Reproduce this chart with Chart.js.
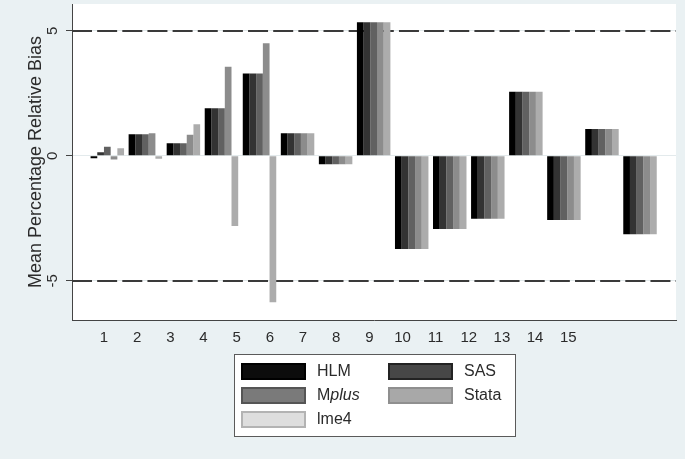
<!DOCTYPE html>
<html>
<head>
<meta charset="utf-8">
<script src="https://cdn.jsdelivr.net/npm/chart.js@4.4.1/dist/chart.umd.min.js"></script>
<style>
  html, body { margin: 0; padding: 0; background: #eaf1f3; }
  canvas { display: block; }
</style>
</head>
<body>
<canvas id="chart" width="685" height="459"></canvas>
<script>
// Simulation conditions and mean percentage relative bias per package
const conditions = [1, 2, 3, 4, 5, 6, 7, 8, 9, 10, 11, 12, 13, 14, 15];
const hlm   = [-0.10, 0.86, 0.50, 1.90, 3.29, 0.90, -0.34, 5.34, -3.73, -2.93, -2.52, 2.56, -2.57, 1.07, -3.14];
const sas   = [ 0.14, 0.86, 0.50, 1.90, 3.29, 0.90, -0.34, 5.34, -3.73, -2.93, -2.52, 2.56, -2.57, 1.07, -3.14];
const mplus = [ 0.36, 0.86, 0.50, 1.90, 3.29, 0.90, -0.34, 5.34, -3.73, -2.93, -2.52, 2.56, -2.57, 1.07, -3.14];
const stata = [-0.15, 0.90, 0.84, 3.56, 4.50, 0.90, -0.34, 5.34, -3.73, -2.93, -2.52, 2.56, -2.57, 1.07, -3.14];
const lme4  = [ 0.30, -0.12, 1.26, -2.81, -5.86, 0.90, -0.34, 5.34, -3.73, -2.93, -2.52, 2.56, -2.57, 1.07, -3.14];
const seriesNames = ['HLM', 'SAS', 'Mplus', 'Stata', 'lme4'];
const yTicks = [-5, 0, 5];
const refLines = [5, -5];

// Bar colours, plus fill/outline pairs for the key
const barColors  = ['#000000', '#333333', '#616161', '#8c8c8c', '#acacac'];
const keyFills   = ['#0c0c0c', '#474747', '#7a7a7a', '#a8a8a8', '#dedede'];
const keyBorders = ['#000000', '#232323', '#555555', '#8f8f8f', '#b3b3b3'];
const seriesValues = [hlm, sas, mplus, stata, lme4];

const FONT = 'Liberation Sans, Arial, sans-serif';
const TEXT = '#2b2b2b';

// Page background and white plot region
const framePlugin = {
  id: 'frame',
  beforeDraw(chart) {
    const { ctx, chartArea: a } = chart;
    ctx.save();
    ctx.fillStyle = '#eaf1f3';
    ctx.fillRect(0, 0, chart.width, chart.height);
    ctx.fillStyle = '#ffffff';
    ctx.fillRect(a.left, a.top, a.right - a.left, a.bottom - a.top);
    ctx.restore();
  }
};

// Dashed reference lines at +/-5, beneath the bars
const refLinePlugin = {
  id: 'refLines',
  beforeDatasetsDraw(chart) {
    const { ctx, chartArea: a, scales: { y } } = chart;
    ctx.save();
    ctx.strokeStyle = '#3a3a3a';
    ctx.lineWidth = 2;
    ctx.setLineDash([20, 5.15]);
    refLines.forEach(v => {
      const py = Math.round(y.getPixelForValue(v));
      ctx.beginPath();
      ctx.moveTo(a.left, py);
      ctx.lineTo(a.right, py);
      ctx.stroke();
    });
    ctx.restore();
  }
};

// Boxed two-column key below the plot
const keyPlugin = {
  id: 'key',
  afterDraw(chart) {
    const { ctx } = chart;
    const box = { x: 234.5, y: 354.5, w: 281, h: 82 };
    const cols = [241, 388];
    const rowY = [371.5, 395.5, 419.5];
    ctx.save();
    ctx.fillStyle = '#ffffff';
    ctx.fillRect(box.x, box.y, box.w, box.h);
    ctx.strokeStyle = '#5a5a5a';
    ctx.lineWidth = 1;
    ctx.strokeRect(box.x, box.y, box.w, box.h);
    chart.data.datasets.forEach((ds, i) => {
      const cx = cols[i % 2];
      const cy = rowY[Math.floor(i / 2)];
      ctx.fillStyle = keyFills[i];
      ctx.fillRect(cx, cy - 8.5, 65, 17);
      ctx.strokeStyle = keyBorders[i];
      ctx.lineWidth = 2;
      ctx.strokeRect(cx + 1, cy - 7.5, 63, 15);
      ctx.fillStyle = TEXT;
      ctx.textBaseline = 'middle';
      ctx.textAlign = 'left';
      let tx = cx + 76;
      const name = ds.label;
      if (name === 'Mplus') {
        ctx.font = '16px ' + FONT;
        ctx.fillText('M', tx, cy);
        tx += ctx.measureText('M').width;
        ctx.font = 'italic 16px ' + FONT;
        ctx.fillText('plus', tx, cy);
      } else {
        ctx.font = '16px ' + FONT;
        ctx.fillText(name, tx, cy);
      }
    });
    ctx.restore();
  }
};

new Chart(document.getElementById('chart'), {
  type: 'bar',
  data: {
    labels: conditions,
    datasets: seriesNames.map((name, i) => ({
      label: name,
      data: seriesValues[i],
      backgroundColor: barColors[i],
      borderWidth: 0,
      barPercentage: 1.0,
      categoryPercentage: 0.88
    }))
  },
  options: {
    responsive: false,
    animation: false,
    devicePixelRatio: 1,
    layout: { padding: { left: 0, top: 4, right: 9, bottom: 0 } },
    plugins: {
      legend: { display: false },
      tooltip: { enabled: false }
    },
    scales: {
      x: {
        type: 'linear',
        display: false,
        offset: false,
        bounds: 'data',
        min: 0.072,
        max: 15.946
      },
      x2: {
        type: 'linear',
        position: 'bottom',
        offset: false,
        bounds: 'data',
        min: 0.035,
        max: 18.248,
        afterBuildTicks: ax => { ax.ticks = conditions.map(v => ({ value: v })); },
        afterFit: ax => {
          ax.height = 139;
          ax.paddingLeft = 0;
          ax.paddingRight = 0;
        },
        grid: { display: false, drawTicks: false, offset: false },
        border: { display: true, color: '#444444', width: 1 },
        ticks: {
          autoSkip: false,
          maxRotation: 0,
          padding: 9,
          color: TEXT,
          font: { family: FONT, size: 15 }
        }
      },
      y: {
        bounds: 'data',
        min: -6.57,
        max: 6.07,
        afterBuildTicks: ax => { ax.ticks = yTicks.map(v => ({ value: v })); },
        afterFit: ax => {
          ax.width = 72;
          ax.paddingTop = 0;
          ax.paddingBottom = 0;
        },
        grid: { color: '#e3eaec', tickColor: '#444444', tickLength: 6, lineWidth: 1 },
        border: { display: true, color: '#444444', width: 1 },
        ticks: {
          minRotation: 90,
          maxRotation: 90,
          crossAlign: 'center',
          padding: 6,
          color: TEXT,
          font: { family: FONT, size: 15 }
        },
        title: {
          display: true,
          text: 'Mean Percentage Relative Bias',
          color: TEXT,
          font: { family: FONT, size: 18 },
          padding: { top: 25, bottom: 0 }
        }
      }
    }
  },
  plugins: [framePlugin, refLinePlugin, keyPlugin]
});
</script>
</body>
</html>
